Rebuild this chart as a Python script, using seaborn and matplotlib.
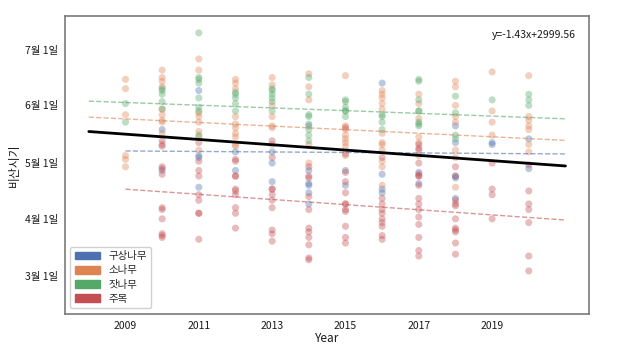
import numpy as np
import pandas as pd
import matplotlib
matplotlib.use("Agg")
import matplotlib.pyplot as plt
from matplotlib.patches import Patch
import seaborn as sns

# ---------------- data (day of year per year) ----------------
species = ["구상나무", "소나무", "잣나무", "주목"]

gusang = {  # 구상나무
    2010: [139, 117],
    2011: [160, 125, 124, 108],
    2012: [127, 117],
    2013: [127, 121, 111],
    2014: [141, 117, 110, 109, 105, 99],
    2015: [117, 109],
    2016: [164, 115, 107, 105],
    2017: [116, 110],
    2018: [141, 132, 114, 113, 102],
    2019: [132, 131],
    2020: [134, 118],
}
sonamu = {  # 소나무
    2009: [166, 161, 147, 125, 123, 119],
    2010: [171, 167, 165, 162, 150, 147, 144, 143, 137],
    2011: [177, 171, 148, 146, 143, 138, 135, 128],
    2012: [166, 164, 161, 146, 142, 140, 137, 135, 131, 130],
    2013: [167, 163, 152, 146, 141, 140, 131],
    2014: [169, 162, 155, 131, 121],
    2015: [168, 141, 139, 136, 134, 132, 130, 125],
    2016: [160, 158, 156, 153, 150, 137, 132, 131, 128, 122, 119, 109],
    2017: [158, 153, 145, 135, 132, 125],
    2018: [165, 162, 152, 146, 143, 128, 124, 108],
    2019: [170, 149, 143, 136],
    2020: [168, 146, 144, 141, 139, 131, 127],
}
jatnamu = {  # 잣나무
    2009: [153, 143],
    2010: [161, 160, 158, 154, 150],
    2011: [191, 167, 166, 164, 156, 151, 149, 136],
    2012: [159, 158, 156, 153, 149],
    2013: [161, 160, 158, 156, 154, 149],
    2014: [167, 158, 147, 146, 142, 139, 136, 133],
    2015: [155, 154, 151, 149, 149, 146],
    2016: [147, 146, 143, 139],
    2017: [166, 165, 155, 149, 149, 143, 142, 141],
    2018: [157, 148, 136, 134],
    2019: [155],
    2020: [158, 155, 152],
}
jumok = {  # 주목
    2010: [133, 131, 130, 119, 118, 115, 97, 96, 91, 83, 82, 81],
    2011: [132, 122, 117, 114, 104, 101, 94, 94, 80],
    2012: [123, 122, 114, 114, 107, 106, 104, 97, 94, 86],
    2013: [133, 124, 107, 107, 104, 101, 97, 85, 83, 79],
    2014: [119, 114, 113, 103, 96, 86, 84, 81, 77, 70, 69],
    2015: [140, 126, 116, 111, 105, 99, 99, 96, 95, 87, 81, 78],
    2016: [124, 102, 99, 96, 94, 91, 89, 87, 82, 80],
    2017: [131, 129, 128, 121, 115, 114, 114, 109, 102, 99, 96, 92, 88, 81, 74, 71],
    2018: [119, 114, 101, 99, 98, 91, 86, 85, 84, 78, 72],
    2019: [121, 107, 104, 91],
    2020: [120, 106, 99, 96, 89, 71, 63],
}

# fitted regression coefficients (y = a*x + b)
fit_slope = [-0.133, -0.962, -0.731, -1.383]
fit_intercept = [394.7, 2077.4, 1622.15, 2885.4]
overall_slope = -1.4251
overall_intercept = 2999.56

ytick_days = [60, 91, 121, 152, 182]
ytick_labels = ["3월 1일", "4월 1일", "5월 1일", "6월 1일", "7월 1일"]
xtick_years = [2009, 2011, 2013, 2015, 2017, 2019]

# ---------------- build long table ----------------
rows = []
for name, d in zip(species, [gusang, sonamu, jatnamu, jumok]):
    for yr, vals in d.items():
        for v in vals:
            rows.append((name, yr, v))
df = pd.DataFrame(rows, columns=["species", "Year", "day"])

# ---------------- plot ----------------
sns.set_style("white")
plt.rcParams["font.family"] = ["Noto Sans CJK KR", "DejaVu Sans"]
plt.rcParams["axes.unicode_minus"] = False

palette = sns.color_palette("deep", 4)

fig = plt.figure(figsize=(6.19, 3.48), dpi=100)
ax = fig.add_axes([0.105, 0.0986, 0.847, 0.855])

sns.scatterplot(data=df, x="Year", y="day", hue="species", hue_order=species,
                palette=palette, s=26, alpha=0.38, linewidth=0,
                legend=False, ax=ax, zorder=2)

for i, name in enumerate(species):
    yrs = df.loc[df.species == name, "Year"]
    xs = np.array([yrs.min() - 1, yrs.max() + 1])
    ax.plot(xs, fit_slope[i] * xs + fit_intercept[i], ls="--", lw=1.0,
            color=palette[i], alpha=0.6, zorder=3)

xs_all = np.array([df.Year.min() - 1, df.Year.max() + 1])
ax.plot(xs_all, overall_slope * xs_all + overall_intercept, color="black",
        lw=2.0, zorder=4)

ax.text(0.975, 0.935, f"y={overall_slope:.2f}x+{overall_intercept:.2f}",
        transform=ax.transAxes, ha="right", va="center", fontsize=7.5,
        color="#1a1a1a")

ax.set_ylim(40, 200)
ax.set_xticks(xtick_years)
ax.set_xticklabels([str(y) for y in xtick_years], fontsize=7.5)
ax.set_yticks(ytick_days)
ax.set_yticklabels(ytick_labels, fontsize=7.5)
ax.set_xlabel("Year", fontsize=8.5, labelpad=1, color="#1a1a1a")
ax.set_ylabel("비산시기", fontsize=8.5, labelpad=3, color="#1a1a1a")

for sp in ax.spines.values():
    sp.set_color("#7a7a7a")
    sp.set_linewidth(1.2)
ax.tick_params(axis="both", direction="out", length=3, width=0.8,
               color="#505050", pad=2, labelcolor="#1a1a1a")

handles = [Patch(facecolor=palette[i], edgecolor=palette[i], label=species[i])
           for i in range(4)]
ax.legend(handles=handles, loc="lower left", fontsize=7.5, frameon=True,
          handlelength=2.4, handleheight=0.75, borderpad=0.45, labelspacing=0.4,
          handletextpad=0.8, framealpha=0.9, edgecolor="#cccccc")

fig.savefig("out.png", dpi=100)
